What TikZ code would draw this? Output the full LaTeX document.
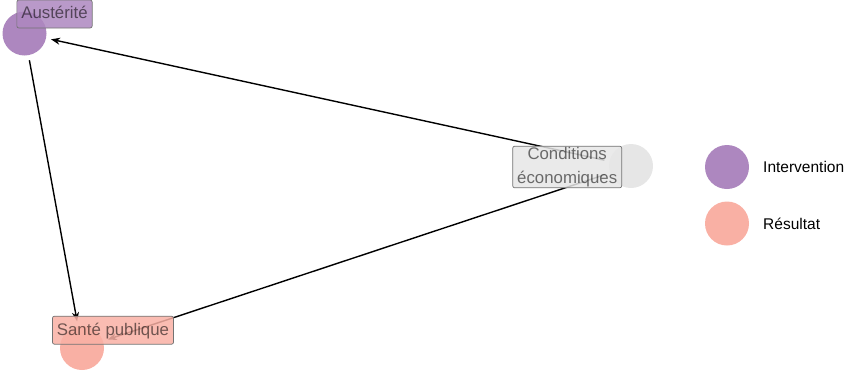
\documentclass[tikz,border=0pt]{standalone}
\usepackage{fontspec}
\setmainfont{Liberation Sans}
\usetikzlibrary{arrows.meta}
\definecolor{interv}{HTML}{AD87BF}
\definecolor{result}{HTML}{F9B0A4}
\definecolor{other}{HTML}{E6E6E6}
\tikzset{
  dot/.style={circle, minimum size=44pt, inner sep=0pt, draw=none},
  edge/.style={line width=1.4pt, draw=black,
    -{Stealth[length=9pt,width=7pt]}, shorten <=5pt, shorten >=5pt},
  lab/.style={draw=black!55, line width=0.7pt, rounded corners=2pt,
    fill opacity=0.85, text opacity=0.55, text=black,
    inner xsep=4.5pt, inner ysep=2pt, align=center,
    font=\fontsize{16.8}{24}\selectfont},
  legtext/.style={anchor=west, inner sep=0pt, font=\fontsize{15.5}{18}\selectfont}
}
\begin{document}
\begin{tikzpicture}[x=1pt, y=-1pt]
  \useasboundingbox (0,0) rectangle (848,370);
  % variables
  \node[dot, fill=interv] (aus) at (24.5,33.5) {};
  \node[dot, fill=result] (san) at (82,348) {};
  \node[dot, fill=other]  (con) at (631,166) {};
  % causal edges
  \draw[edge] (con) -- (aus);
  \draw[edge] (con) -- (san);
  \draw[edge] (aus) -- (san);
  % labels
  \node[lab, fill=interv] (lab-aus) at (54.5,14) {Austérité\strut};
  \node[lab, fill=result] (lab-san) at (113,330.2) {Santé publique\strut};
  \node[lab, fill=other, inner ysep=1pt] (lab-con) at (567.2,167) {Conditions\\économiques};
  % legend
  \node[dot, fill=interv] (leg-i) at (727,167) {};
  \node[dot, fill=result] (leg-r) at (727,223.5) {};
  \node[legtext] (leg-i-t) at (763,167) {Intervention};
  \node[legtext] (leg-r-t) at (763,224) {Résultat};
\end{tikzpicture}
\end{document}
